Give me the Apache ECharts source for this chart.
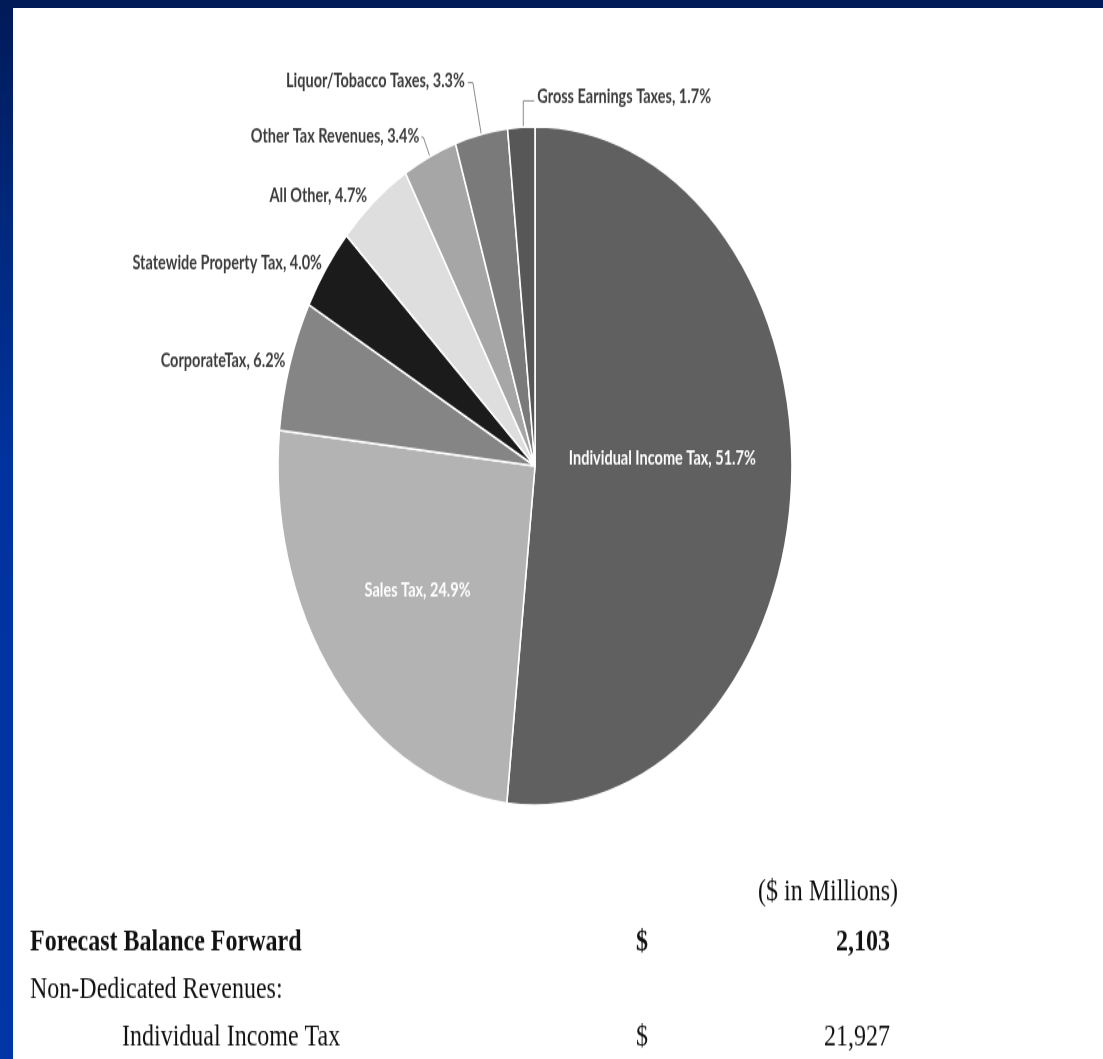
<!DOCTYPE html>
<html><head><meta charset="utf-8">
<script src="https://cdn.jsdelivr.net/npm/echarts@6/dist/echarts.min.js"></script>
<style>
html,body{margin:0;padding:0;width:1103px;height:1059px;overflow:hidden;
background:linear-gradient(180deg,#001a57 0px,#00287c 220px,#0033a0 480px,#0036a5 1059px);}
#panel{position:absolute;left:13px;top:8px;width:1090px;height:1051px;background:#fff;}
#chart{position:absolute;left:0;top:0;width:1103px;height:802px;transform:scaleY(1.32);transform-origin:0 0;}
</style></head><body>
<div id="panel"></div><div id="chart"></div>
<script>
// ---- data ----
const categories = ['Individual Income Tax','Sales Tax','CorporateTax','Statewide Property Tax','All Other','Other Tax Revenues','Liquor/Tobacco Taxes','Gross Earnings Taxes'];
const shares = [51.7, 24.9, 6.2, 4.0, 4.7, 3.4, 3.3, 1.7];
const unitNote = '($ in Millions)';
const tableRows = ['Forecast Balance Forward', 'Non-Dedicated Revenues:', 'Individual Income Tax'];
const tableDollar = ['$', '', '$'];
const tableAmounts = ['2,103', '', '21,927'];

// ---- styles ----
const sliceColors = ['#606060','#b3b3b3','#858585','#1b1b1b','#dedede','#a6a6a6','#7a7a7a','#575757'];
const labelGeom = [
  {pos:'inside', offset:[-4,-13]},
  {pos:'inside', offset:[-15,12]},
  {pos:'outside', len:0, len2:0, line:false, va:'bottom', offset:[0,-4]},
  {pos:'outside', len:0, len2:0, line:false, va:'bottom', offset:[0,-4]},
  {pos:'outside', len:0, len2:0, line:false, va:'bottom', offset:[-3,-4]},
  {pos:'outside', len:16, len2:2, line:true, va:'bottom', dist:2, offset:[0,-1]},
  {pos:'outside', len:40, len2:5, line:true, va:'middle', dist:3, offset:[0,-1]},
  {pos:'outside', len:0, len2:0, line:true, va:'middle', flip:true}
];
const FONT = 'Lato';
const SY = 1.32;

const pieData = categories.map((name, i) => {
  const g = labelGeom[i];
  const item = {name, value: shares[i], itemStyle: {color: sliceColors[i]}};
  if (g.pos === 'inside') {
    item.label = {position: 'inside', color: '#ffffff', offset: g.offset};
    item.labelLine = {show: false};
  } else {
    item.label = {position: 'outside', color: '#3c3c3c', verticalAlign: g.va,
      distanceToLabelLine: g.dist == null ? 4 : g.dist, offset: g.offset || [0, 0]};
    item.labelLine = {show: g.line, length: g.len, length2: g.len2};
  }
  return item;
});

const chart = echarts.init(document.getElementById('chart'));
const textEls = [];
const rowY = [943, 990, 1038];
textEls.push({type:'text', x: 898, y: 893 / SY, scaleY: 0.92,
  style:{text: unitNote, font: '24px "Liberation Serif"', fill:'#111', textAlign:'right', textVerticalAlign:'middle'}});
tableRows.forEach((t, i) => {
  const bold = i === 0;
  const f = (bold ? 'bold ' : '') + '24px "Liberation Serif"';
  textEls.push({type:'text', x: i === 2 ? 122 : 30, y: rowY[i] / SY, scaleY: 0.92,
    style:{text: t, font: f, fill:'#111', textAlign:'left', textVerticalAlign:'middle'}});
  if (tableDollar[i]) textEls.push({type:'text', x: 636, y: rowY[i] / SY, scaleY: 0.92,
    style:{text: tableDollar[i], font: f, fill:'#111', textAlign:'left', textVerticalAlign:'middle'}});
  if (tableAmounts[i]) textEls.push({type:'text', x: 890, y: rowY[i] / SY, scaleY: 0.92,
    style:{text: tableAmounts[i], font: f, fill:'#111', textAlign:'right', textVerticalAlign:'middle'}});
});

chart.setOption({
  animation: false,
  backgroundColor: 'transparent',
  series: [{
    type: 'pie',
    center: [535, 466 / SY],
    radius: 257,
    startAngle: 90,
    clockwise: true,
    avoidLabelOverlap: false,
    emphasis: {disabled: true},
    itemStyle: {borderColor: '#ffffff', borderWidth: 1.6},
    label: {
      fontFamily: FONT, fontWeight: 'bold', fontSize: 14.5,
      formatter: p => p.name + ', ' + p.value.toFixed(1) + '%'
    },
    labelLine: {lineStyle: {color: '#8a8a8a', width: 1}},
    labelLayout: function (params) {
      if (!labelGeom[params.dataIndex].flip || !params.labelLinePoints) return {};
      const p0 = params.labelLinePoints[0];
      const p1 = [p0[0] + 2, p0[1] - 20];
      const p2 = [p1[0] + 11, p1[1]];
      return {
        x: p2[0] + 3, y: p2[1] - 3, align: 'left', verticalAlign: 'middle',
        labelLinePoints: [[p0[0] + 2, p0[1]], p1, p2]
      };
    },
    data: pieData
  }],
  graphic: textEls
});
</script>
</body></html>
